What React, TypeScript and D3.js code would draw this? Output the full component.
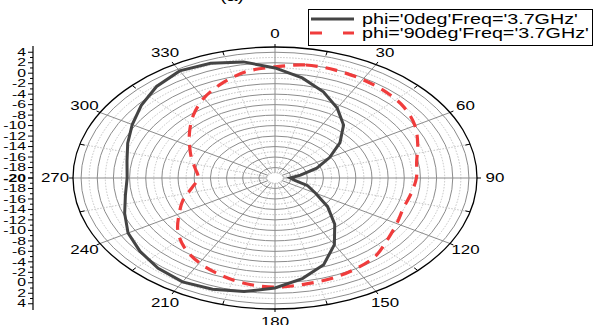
import React, { useEffect, useRef } from 'react'
import * as d3 from 'd3'

// gain in dB, every 10 deg from 0 to 350
const angles = [0, 10, 20, 30, 40, 50, 60, 70, 80, 90, 100, 110, 120, 130, 140, 150, 160, 170,
  180, 190, 200, 210, 220, 230, 240, 250, 260, 270, 280, 290, 300, 310, 320, 330, 340, 350]
const phi0 = [1.0, -0.6, -2.5, -4.6, -6.8, -9.5, -12.2, -14.5, -16.8, -18.1, -17.5, -15.7, -14.2, -11.5, -8.5, -5.3, -2.4, -0.5,
  1.0, 2.0, 2.6, 2.9, 2.5, 1.8, 1.0, -0.2, -1.2, -1.7, -1.4, -0.6, 0.4, 1.6, 2.8, 3.6, 3.3, 2.5]
const phi90 = [1.2, 1.9, 1.9, 1.7, 1.4, 0.9, 0.0, -1.2, -2.2, -2.5, -2.9, -3.1, -2.6, -1.8, -0.6, 0.0, 0.4, 0.6,
  0.8, 0.5, -0.3, -1.3, -2.6, -4.3, -6.3, -7.9, -9.6, -10.5, -10.0, -9.0, -7.8, -6.2, -4.3, -2.4, -0.8, 0.6]
const angleLabels = [0, 30, 60, 90, 120, 150, 180, 210, 240, 270, 300, 330]
const rTickLabels = [4, 2, 0, -2, -4, -6, -8, -10, -12, -14, -16, -18, -20]
const legendNames = ["phi='0deg'Freq='3.7GHz'", "phi='90deg'Freq='3.7GHz'"]

const App = () => {
  const ref = useRef<SVGSVGElement>(null)
  useEffect(() => {
    const svg = d3.select(ref.current)
    svg.selectAll('*').remove()
    const cx = 275, cy = 178, rx = 202, ry = 131
    const sx = 1.41 // text is stretched sideways like the picture
    const font = 'Liberation Sans, Arial, sans-serif'
    const r = d3.scaleLinear().domain([-20, 5]).range([0, 1])
    const pt = (deg: number, db: number, ex = 0, ey = 0): [number, number] => {
      const a = deg * Math.PI / 180
      const f = r(db)
      return [cx + (rx * f + ex) * Math.sin(a), cy - (ry * f + ey) * Math.cos(a)]
    }
    const text = (x: number, y: number, s: string, size: number, anchor = 'middle', weight = 'normal', k = sx) =>
      svg.append('text')
        .attr('transform', `translate(${x},${y}) scale(${k},1)`)
        .attr('text-anchor', anchor)
        .attr('dy', '0.35em')
        .attr('font-family', font)
        .attr('font-size', size)
        .attr('font-weight', weight)
        .attr('fill', '#000')
        .text(s)

    const grid = svg.append('g')
    // rings
    d3.range(-19, 5).forEach(v => {
      const even = v % 2 === 0
      grid.append('ellipse')
        .attr('cx', cx).attr('cy', cy)
        .attr('rx', rx * r(v)).attr('ry', ry * r(v))
        .attr('fill', 'none')
        .attr('stroke', even ? '#8c8c8c' : '#c4c4c4')
        .attr('stroke-width', 1)
        .attr('stroke-dasharray', even ? null : '1.5,1.5')
    })
    // spokes
    d3.range(0, 360, 15).forEach(a => {
      const major = a % 30 === 0
      const p1 = pt(a, -19), p2 = pt(a, 5)
      grid.append('line')
        .attr('x1', p1[0]).attr('y1', p1[1]).attr('x2', p2[0]).attr('y2', p2[1])
        .attr('stroke', major ? '#8c8c8c' : '#c4c4c4')
        .attr('stroke-width', 1)
        .attr('stroke-dasharray', major ? null : '1.5,1.5')
    })
    // outer ring + ticks
    grid.append('ellipse')
      .attr('cx', cx).attr('cy', cy).attr('rx', rx).attr('ry', ry)
      .attr('fill', 'none').attr('stroke', '#000').attr('stroke-width', 1.3)
    d3.range(0, 360, 15).forEach(a => {
      const major = a % 30 === 0
      const p1 = major ? pt(a, 5, 0, 0) : pt(a, 5, -5, -4)
      const p2 = major ? pt(a, 5, 4, 3) : pt(a, 5)
      grid.append('line')
        .attr('x1', p1[0]).attr('y1', p1[1]).attr('x2', p2[0]).attr('y2', p2[1])
        .attr('stroke', '#000').attr('stroke-width', 1)
    })
    angleLabels.forEach(a => {
      const p = pt(a, 5, 18, 13)
      text(p[0], p[1], String(a), 12)
    })

    // series
    const pts0 = angles.map((a, i) => pt(a, phi0[i]))
    const pts90 = angles.map((a, i) => pt(a, phi90[i]))
    svg.append('path')
      .attr('d', d3.line().curve(d3.curveCatmullRomClosed)(pts90))
      .attr('fill', 'none').attr('stroke', '#f03c3c').attr('stroke-width', 3.2)
      .attr('stroke-dasharray', '12,8')
    svg.append('path')
      .attr('d', d3.line().curve(d3.curveLinearClosed)(pts0))
      .attr('fill', 'none').attr('stroke', '#444').attr('stroke-width', 3)

    // left axis
    const yTop = d3.scaleLinear().domain([-20, 5]).range([cy, cy - ry])
    const yBot = d3.scaleLinear().domain([-20, 5]).range([cy, cy + ry])
    const ax = 33
    svg.append('line').attr('x1', ax).attr('x2', ax).attr('y1', yTop(5) - 1).attr('y2', yBot(5) + 1)
      .attr('stroke', '#000').attr('stroke-width', 1.2)
    d3.range(-20, 5).forEach(v => {
      const len = v % 2 === 0 ? 5 : 3
      ;[yTop(v), yBot(v)].forEach(y => {
        svg.append('line').attr('x1', ax - len).attr('x2', ax).attr('y1', y).attr('y2', y)
          .attr('stroke', '#000').attr('stroke-width', 1)
      })
    })
    rTickLabels.forEach(v => {
      const w = v === -20 ? 'bold' : 'normal'
      text(ax - 7, yTop(v), String(v), 10.5, 'end', w, 1.5)
      if (v !== -20) text(ax - 7, yBot(v), String(v), 10.5, 'end', 'normal', 1.5)
    })

    // title, mostly cut off at top
    text(232, -4, '(a)', 14)

    // legend
    svg.append('rect').attr('x', 308.5).attr('y', 9.5).attr('width', 284).attr('height', 36)
      .attr('fill', '#fff').attr('stroke', '#000').attr('stroke-width', 1)
    svg.append('line').attr('x1', 311).attr('x2', 354).attr('y1', 19).attr('y2', 19)
      .attr('stroke', '#444').attr('stroke-width', 3)
    svg.append('line').attr('x1', 310).attr('x2', 354).attr('y1', 33).attr('y2', 33)
      .attr('stroke', '#f03c3c').attr('stroke-width', 3.2).attr('stroke-dasharray', '12,21')
    legendNames.forEach((n, i) => text(362, 19 + i * 14, n, 14, 'start'))
  }, [])
  return <svg ref={ref} width={594} height={325} style={{ position: 'absolute', left: 0, top: 0, background: '#fff' }} />
}

export default App
